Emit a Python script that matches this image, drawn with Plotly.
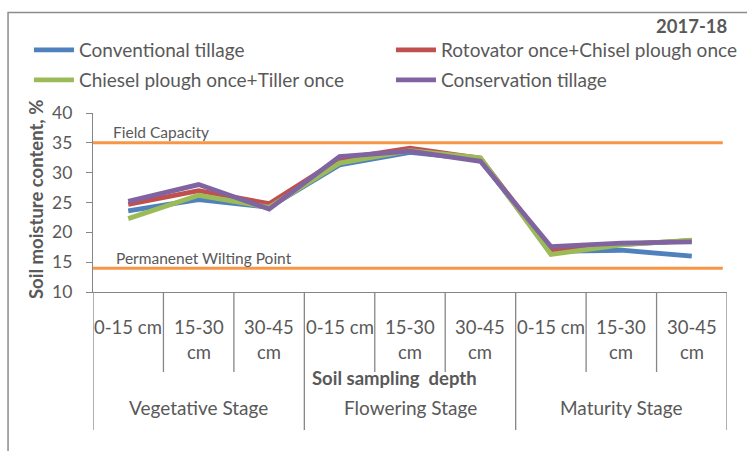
import plotly.graph_objects as go

# ---- data ----
stages = ["Vegetative Stage", "Flowering Stage", "Maturity Stage"]
depth_labels = [["0-15 cm"], ["15-30", "cm"], ["30-45", "cm"]]
series_names = ["Conventional tillage", "Rotovator once+Chisel plough once",
                "Chiesel plough once+Tiller once", "Conservation tillage"]
conventional = [23.6, 25.5, 24.2, 31.3, 33.4, 32.2, 16.8, 17.0, 16.0]
rotovator = [24.7, 27.0, 24.8, 32.3, 34.1, 32.4, 17.0, 18.0, 18.6]
chisel_tiller = [22.3, 26.2, 24.2, 31.6, 33.7, 32.5, 16.3, 17.9, 18.7]
conservation = [25.2, 28.0, 23.9, 32.7, 33.6, 31.9, 17.6, 18.2, 18.4]
field_capacity = 35
wilting_point = 14
year_label = "2017-18"

colors = ["#4F81BD", "#C0504D", "#9BBB59", "#8064A2"]
values = [conventional, rotovator, chisel_tiller, conservation]

FONT = "Lato"
TXT = "#595959"
AX = "#868686"

n = len(stages) * len(depth_labels)
xs = list(range(n))

legend_ids = ["legend", "legend2", "legend3", "legend4"]
# legend grid: (paper x, paper y) for each entry
legend_pos = [(-0.101, 1.352), (0.470, 1.352), (-0.101, 1.184), (0.470, 1.184)]

fig = go.Figure()
for i, (name, vals, col) in enumerate(zip(series_names, values, colors)):
    fig.add_trace(go.Scatter(
        x=xs, y=vals, mode="lines", name=name,
        line=dict(color=col, width=4.8),
        legend=legend_ids[i],
    ))

shapes = []
annotations = []
# reference lines
for val in (field_capacity, wilting_point):
    shapes.append(dict(type="line", xref="x", yref="y", x0=-0.5, x1=n - 0.56,
                       y0=val, y1=val, line=dict(color="#F79646", width=3), layer="below"))
annotations.append(dict(text="Field Capacity", xref="x", yref="y", x=-0.24, y=field_capacity,
                        xanchor="left", yanchor="bottom", yshift=0, showarrow=False,
                        font=dict(family=FONT, size=15.5, color=TXT)))
annotations.append(dict(text="Permanenet Wilting Point", xref="x", yref="y", x=-0.2, y=wilting_point,
                        xanchor="left", yanchor="bottom", yshift=-1, showarrow=False,
                        font=dict(family=FONT, size=15.5, color=TXT)))

# category dividers
for k in range(n + 1):
    b = k - 0.5
    long = (k % len(depth_labels) == 0)
    shapes.append(dict(type="line", xref="x", yref="paper", x0=b, x1=b,
                       y0=0, y1=-0.771 if long else -0.447,
                       line=dict(color=AX, width=1.3)))

# depth tick labels
for k in range(n):
    lines = depth_labels[k % len(depth_labels)]
    for li, t in enumerate(lines):
        annotations.append(dict(text=t, xref="x", yref="paper", x=k, y=-0.196 - 0.14 * li,
                                xanchor="center", yanchor="middle", showarrow=False,
                                font=dict(family=FONT, size=18.5, color=TXT)))
# stage labels
for s, st in enumerate(stages):
    annotations.append(dict(text=st, xref="x", yref="paper", x=s * 3 + 1, y=-0.648,
                            xanchor="center", yanchor="middle", showarrow=False,
                            font=dict(family=FONT, size=19, color=TXT)))
annotations.append(dict(text="<b>Soil sampling  depth</b>", xref="paper", yref="paper",
                        x=0.475, y=-0.48, xanchor="center", yanchor="middle", showarrow=False,
                        font=dict(family=FONT, size=18.5, color=TXT)))
annotations.append(dict(text="<b>Soil moisture content, %</b>", xref="paper", yref="paper",
                        x=-0.0899, y=0.514, xanchor="center", yanchor="middle", textangle=-90,
                        showarrow=False, font=dict(family=FONT, size=18.5, color=TXT)))
annotations.append(dict(text="<b>" + year_label + "</b>", xref="paper", yref="paper",
                        x=1.0047, y=1.486, xanchor="right", yanchor="middle", showarrow=False,
                        font=dict(family=FONT, size=18.5, color=TXT)))

# chart border (top and left)
shapes.append(dict(type="path", xref="paper", yref="paper",
                   path="M 1.05,1.561 L -0.134,1.561 L -0.134,-0.9",
                   line=dict(color="#8C8C8C", width=1.5), layer="above"))

legend_common = dict(orientation="h", font=dict(family=FONT, size=19, color=TXT),
                     bgcolor="rgba(0,0,0,0)", xanchor="left", yanchor="middle",
                     itemwidth=40)
legend_layout = {lid: dict(x=px, y=py, **legend_common)
                 for lid, (px, py) in zip(legend_ids, legend_pos)}

fig.update_layout(
    width=747, height=451,
    margin=dict(l=93, r=20, t=113, b=159, autoexpand=False),
    paper_bgcolor="white", plot_bgcolor="white",
    showlegend=True,
    xaxis=dict(range=[-0.5, n - 0.5], showticklabels=False, showgrid=False, zeroline=False,
               showline=True, linecolor=AX, linewidth=1.3, ticks=""),
    yaxis=dict(range=[10, 40], dtick=5, showgrid=False, zeroline=False, showline=True,
               linecolor=AX, linewidth=1.3, ticks="outside", ticklen=6, tickcolor=AX,
               ticklabelstandoff=10,
               tickfont=dict(family=FONT, size=17.5, color=TXT)),
    shapes=shapes, annotations=annotations,
    **legend_layout,
)

fig.write_html("out.html", config={"displayModeBar": False},
               post_script="document.body.style.margin='0';")
